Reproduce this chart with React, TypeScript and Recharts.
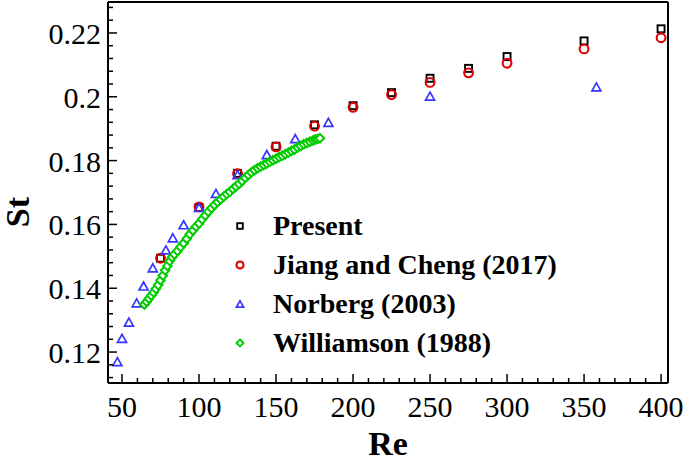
import { ScatterChart, Scatter, XAxis, YAxis, ReferenceLine, Legend } from "recharts";

const presentRe = [75, 100, 125, 150, 175, 200, 225, 250, 275, 300, 350, 400];
const presentSt = [0.1494, 0.1653, 0.176, 0.1845, 0.1912, 0.1972, 0.2013, 0.2058, 0.2089, 0.2126, 0.2175, 0.2213];

const jiangRe = [75, 100, 125, 150, 175, 200, 225, 250, 275, 300, 350, 400];
const jiangSt = [0.1494, 0.1655, 0.1759, 0.1843, 0.1908, 0.1967, 0.2007, 0.2045, 0.2075, 0.2105, 0.215, 0.2185];

const norbergRe = [47, 50, 54.5, 59.5, 64, 70, 78.5, 83, 90, 100, 111, 125, 144, 162.5, 184, 250, 358];
const norbergSt = [0.117, 0.1243, 0.1294, 0.1354, 0.1407, 0.1464, 0.152, 0.1558, 0.1599, 0.1653, 0.1697, 0.1756, 0.1819, 0.1869, 0.192, 0.2002, 0.2031];

const williamsonRe = [
  64.5, 66, 67.5, 69, 70.5, 72, 73.5, 75, 76.5, 78, 79.5, 81, 82.5, 84, 86, 88, 90, 92, 94, 96, 98, 100,
  102, 104, 106, 108, 110, 112, 114, 116, 118, 120, 122, 124, 126, 128, 130, 132, 134, 136, 138, 140,
  142, 144, 146, 148, 150, 152, 154, 156, 158, 160, 162, 164, 166, 168, 170, 172, 174, 175.5, 177, 178.5,
];
const williamsonSt = [
  0.1349, 0.1358, 0.1367, 0.1377, 0.1387, 0.1398, 0.141, 0.1425, 0.144, 0.1456, 0.147, 0.1485, 0.1497, 0.1506,
  0.1517, 0.1529, 0.1541, 0.1555, 0.1569, 0.1581, 0.1593, 0.1603, 0.1616, 0.1628, 0.164, 0.1651, 0.1661, 0.167,
  0.1678, 0.1687, 0.1695, 0.1702, 0.1711, 0.1719, 0.1727, 0.1736, 0.1746, 0.1755, 0.1763, 0.177, 0.1776, 0.1781,
  0.1786, 0.1791, 0.1796, 0.1801, 0.1806, 0.1811, 0.1815, 0.182, 0.1825, 0.183, 0.1835, 0.1841, 0.1846, 0.1851,
  0.1855, 0.1859, 0.1863, 0.1866, 0.1868, 0.187,
];

const xTicks = [50, 60, 70, 80, 90, 100, 110, 120, 130, 140, 150, 160, 170, 180, 190, 200, 210, 220, 230, 240, 250,
  260, 270, 280, 290, 300, 310, 320, 330, 340, 350, 360, 370, 380, 390, 400];
const xLabels = [50, 100, 150, 200, 250, 300, 350, 400];
const yTicks = [0.112, 0.116, 0.12, 0.124, 0.128, 0.132, 0.136, 0.14, 0.144, 0.148, 0.152, 0.156, 0.16, 0.164, 0.168,
  0.172, 0.176, 0.18, 0.184, 0.188, 0.192, 0.196, 0.2, 0.204, 0.208, 0.212, 0.216, 0.22, 0.224, 0.228];
const yLabels = [0.12, 0.14, 0.16, 0.18, 0.2, 0.22];

const seriesNames = ["Present", "Jiang and Cheng (2017)", "Norberg (2003)", "Williamson (1988)"];
const seriesColors = ["#000000", "#e00000", "#3535ff", "#00cc00"];

const pairs = (re: number[], st: number[]) => re.map((r, i) => ({ re: r, st: st[i] }));

const FONT = "Liberation Serif, Times New Roman, serif";

const marker = (kind: number, cx: number, cy: number, small = false) => {
  const c = seriesColors[kind];
  const k = small ? 0.8 : 1;
  if (kind === 0) {
    const s = 7 * k;
    return <rect x={cx - s / 2} y={cy - s / 2} width={s} height={s} fill="#fff" stroke={c} strokeWidth={1.9} />;
  }
  if (kind === 1) {
    return <circle cx={cx} cy={cy} r={4.4 * k} fill="none" stroke={c} strokeWidth={2.1} />;
  }
  if (kind === 2) {
    const h = 8 * k;
    const w = 9 * k;
    return (
      <polygon
        points={`${cx},${cy - h / 2} ${cx + w / 2},${cy + h / 2} ${cx - w / 2},${cy + h / 2}`}
        fill="none"
        stroke={c}
        strokeWidth={1.7}
      />
    );
  }
  const d = 4.3 * k;
  return (
    <polygon
      points={`${cx},${cy - d} ${cx + d},${cy} ${cx},${cy + d} ${cx - d},${cy}`}
      fill="#fff"
      stroke={c}
      strokeWidth={2}
    />
  );
};

const XTick = (props: any) => {
  const { x, y, payload } = props;
  const v = payload.value;
  const major = xLabels.includes(v);
  return (
    <g>
      <line x1={x} x2={x} y1={y} y2={y - (major ? 9 : 5)} stroke="#000" strokeWidth={1.5} />
      {major && (
        <text x={x} y={y + 34} textAnchor="middle" fill="#000" style={{ fontFamily: FONT, fontSize: 30 }}>
          {v}
        </text>
      )}
    </g>
  );
};

const YTick = (props: any) => {
  const { x, y, payload } = props;
  const v = payload.value;
  const major = yLabels.some((l) => Math.abs(l - v) < 1e-6);
  return (
    <g>
      <line x1={x} x2={x + (major ? 9 : 5)} y1={y} y2={y} stroke="#000" strokeWidth={1.5} />
      {major && (
        <text x={x - 7} y={y + 11} textAnchor="end" fill="#000" style={{ fontFamily: FONT, fontSize: 30 }}>
          {String(v)}
        </text>
      )}
    </g>
  );
};

const LegendBox = () => (
  <div style={{ fontFamily: FONT }}>
    {seriesNames.map((name, i) => (
      <div key={name} style={{ display: "flex", alignItems: "center", height: 39 }}>
        <svg width={16} height={16}>
          {marker(i, 8, 8, true)}
        </svg>
        <span style={{ marginLeft: 25, fontSize: 28, fontWeight: "bold", lineHeight: "39px", whiteSpace: "nowrap" }}>
          {name}
        </span>
      </div>
    ))}
  </div>
);

export default function App() {
  const sets = [
    pairs(presentRe, presentSt),
    pairs(jiangRe, jiangSt),
    pairs(norbergRe, norbergSt),
    pairs(williamsonRe, williamsonSt),
  ];

  return (
    <div style={{ position: "absolute", left: 0, top: 0, width: 685, height: 465, background: "#fff" }}>
      <ScatterChart width={685} height={465} margin={{ top: 2, right: 17, bottom: 0, left: 0 }}>
        <XAxis
          type="number"
          dataKey="re"
          domain={[40.9, 404.5]}
          ticks={xTicks}
          interval={0}
          tick={<XTick />}
          tickLine={false}
          tickSize={0}
          tickMargin={0}
          height={82}
          axisLine={{ stroke: "#000", strokeWidth: 2 }}
          allowDataOverflow
        />
        <YAxis
          type="number"
          dataKey="st"
          domain={[0.1103, 0.2297]}
          ticks={yTicks}
          interval={0}
          tick={<YTick />}
          tickLine={false}
          tickSize={0}
          tickMargin={0}
          width={108}
          axisLine={{ stroke: "#000", strokeWidth: 2 }}
          allowDataOverflow
        />
        <ReferenceLine y={0.2297} stroke="#000" strokeWidth={2} />
        <ReferenceLine x={404.5} stroke="#000" strokeWidth={2} />
        {sets.map((data, i) => (
          <Scatter
            key={seriesNames[i]}
            name={seriesNames[i]}
            data={data}
            isAnimationActive={false}
            shape={(p: any) => marker(i, p.cx, p.cy)}
          />
        ))}
        <Legend
          layout="vertical"
          align="center"
          verticalAlign="middle"
          content={<LegendBox />}
          wrapperStyle={{ left: 232, top: 206, width: 420 }}
        />
      </ScatterChart>
      <svg
        width={685}
        height={465}
        style={{ position: "absolute", left: 0, top: 0, pointerEvents: "none" }}
      >
        <text x={388} y={455} textAnchor="middle" style={{ fontFamily: FONT, fontSize: 34, fontWeight: "bold" }}>
          Re
        </text>
        <text
          x={29}
          y={212}
          textAnchor="middle"
          style={{ fontFamily: FONT, fontSize: 34, fontWeight: "bold" }}
          transform="rotate(-90 29 212)"
        >
          St
        </text>
      </svg>
    </div>
  );
}
